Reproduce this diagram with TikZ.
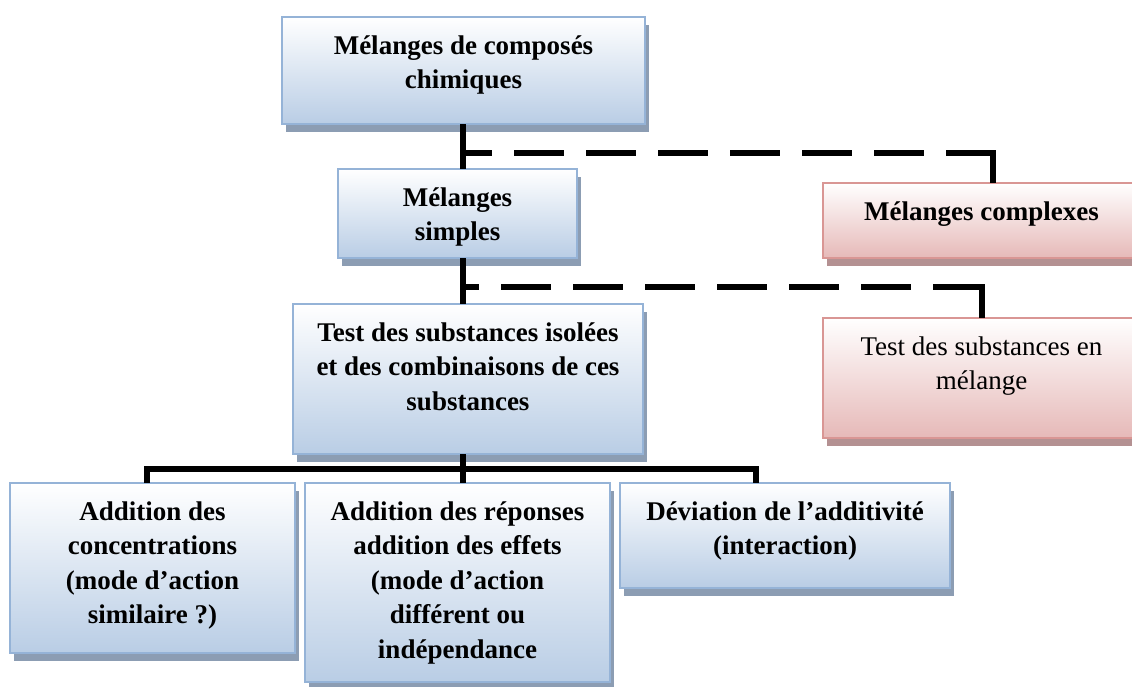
\documentclass[tikz,border=0pt]{standalone}
\usepackage{fontspec}
\setmainfont{Liberation Serif}
\usetikzlibrary{shadows}
\definecolor{bluefill}{RGB}{185,205,229}
\definecolor{blueborder}{RGB}{149,179,215}
\definecolor{blueshadow}{RGB}{140,157,179}
\definecolor{pinkfill}{RGB}{230,185,184}
\definecolor{pinkborder}{RGB}{217,150,148}
\definecolor{pinkshadow}{RGB}{180,145,146}
\tikzset{
  boxbase/.style={rectangle, inner sep=0pt, outer sep=0pt, anchor=north west, line width=2pt},
  bluebox/.style={boxbase, draw=blueborder, top color=white, middle color=bluefill!55!white, bottom color=bluefill,
    general shadow={fill=blueshadow, shadow xshift=4pt, shadow yshift=-8pt}},
  pinkbox/.style={boxbase, draw=pinkborder, top color=white, middle color=pinkfill!55!white, bottom color=pinkfill,
    general shadow={fill=pinkshadow, shadow xshift=4pt, shadow yshift=-8pt}},
  txt/.style={anchor=north, inner sep=0pt, align=center, text=black, font=\fontsize{27}{34.5}\selectfont\bfseries},
  txtreg/.style={txt, font=\fontsize{27}{34.5}\selectfont},
  solidc/.style={line width=6pt, draw=black, line join=miter},
  dashc/.style={line width=6pt, draw=black, dash pattern=on 50pt off 22pt},
}
\begin{document}
\begin{tikzpicture}[x=1pt, y=-1pt]
\useasboundingbox (0,0) rectangle (1132,686);
\clip (0,0) rectangle (1132,686);
% boxes
\node[bluebox, minimum width=363pt, minimum height=107pt] (top) at (282,17) {};
\node[bluebox, minimum width=239pt, minimum height=89pt] (simples) at (338,169) {};
\node[pinkbox, minimum width=317pt, minimum height=75pt] (complexes) at (823,183) {};
\node[bluebox, minimum width=350pt, minimum height=150pt] (isolees) at (293,304) {};
\node[pinkbox, minimum width=317pt, minimum height=120pt] (melange) at (823,318) {};
\node[bluebox, minimum width=285pt, minimum height=170pt] (add1) at (10,483) {};
\node[bluebox, minimum width=305pt, minimum height=199pt] (add2) at (305,483) {};
\node[bluebox, minimum width=330pt, minimum height=105pt] (dev) at (620,483) {};
% texts
\node[txt] (ttop) at ([yshift=-12.85pt]top.north) {\strut Mélanges de composés\\chimiques};
\node[txt] (tsimples) at ([yshift=-12.85pt]simples.north) {\strut Mélanges\\simples};
\node[txt] (tcomplexes) at ([yshift=-12.85pt]complexes.north) {\strut Mélanges complexes};
\node[txt] (tisolees) at ([yshift=-12.85pt]isolees.north) {\strut Test des substances isolées\\et des combinaisons de ces\\substances};
\node[txtreg] (tmelange) at ([yshift=-12.85pt]melange.north) {\strut Test des substances en\\mélange};
\node[txt] (tadd1) at ([yshift=-12.85pt]add1.north) {\strut Addition des\\concentrations\\(mode d’action\\similaire ?)};
\node[txt] (tadd2) at ([yshift=-12.85pt]add2.north) {\strut Addition des réponses\\addition des effets\\(mode d’action\\différent ou\\indépendance};
\node[txt] (tdev) at ([yshift=-12.85pt]dev.north) {\strut Déviation de l’additivité\\(interaction)};
% junction coordinates
\coordinate (j1) at (463,153);
\coordinate (c1) at (993,153);
\coordinate (j2) at (463,287);
\coordinate (c2) at (982,287);
\coordinate (h) at (463,469);
\coordinate (hl) at (147,469);
\coordinate (hr) at (756,469);
% connectors
\draw[solidc] (top.south -| j1) -- (simples.north -| j1);
\draw[dashc, dash phase=21pt] (j1) -- (c1);
\draw[solidc] ([yshift=3pt]c1) -- (complexes.north -| c1);
\draw[solidc] (simples.south -| j2) -- (isolees.north -| j2);
\draw[dashc, dash phase=34pt] (j2) -- (c2);
\draw[solidc] ([yshift=3pt]c2) -- (melange.north -| c2);
\draw[solidc] (isolees.south -| h) -- (add2.north -| h);
\draw[solidc] (hl |- add1.north) -- (hl) -- (hr) -- (hr |- dev.north);
\end{tikzpicture}
\end{document}
